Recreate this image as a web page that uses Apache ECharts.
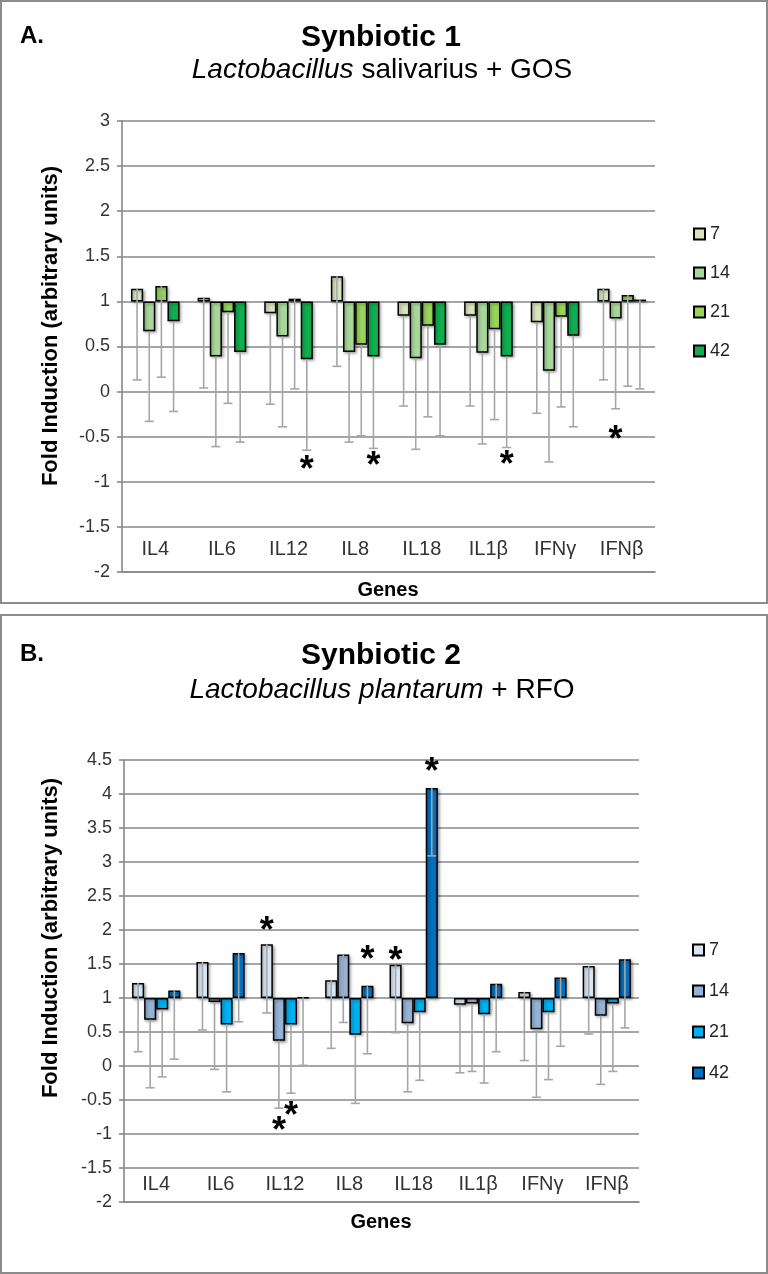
<!DOCTYPE html>
<html>
<head>
<meta charset="utf-8">
<script src="https://cdn.jsdelivr.net/npm/echarts@6/dist/echarts.min.js"></script>
<style>
  body { margin: 0; background: #fff; }
  .panel { position: absolute; left: 0; width: 764px; border: 2px solid #8c8c8c; background: #fff; }
  #chartA { top: 0; height: 600px; }
  #chartB { top: 614px; height: 656px; }
</style>
</head>
<body>
<div id="chartA" class="panel"></div>
<div id="chartB" class="panel"></div>
<script>
// genes on the x axis, sampling days as series
var genes = ['IL4', 'IL6', 'IL12', 'IL8', 'IL18', 'IL1β', 'IFNγ', 'IFNβ'];
var days = ['7', '14', '21', '42'];
var base = 1; // bars start from fold induction 1

// Synbiotic 1 (L. salivarius + GOS)
var a7 = [1.14, 1.04, 0.87, 1.28, 0.84, 0.84, 0.77, 1.14];
var a14 = [0.67, 0.39, 0.61, 0.44, 0.37, 0.43, 0.23, 0.81];
var a21 = [1.17, 0.88, 1.03, 0.52, 0.73, 0.69, 0.83, 1.07];
var a42 = [0.78, 0.44, 0.36, 0.39, 0.52, 0.39, 0.62, 1.02];
// lower end of error bars
var a7Low = [0.13, 0.04, -0.14, 0.28, -0.16, -0.16, -0.24, 0.13];
var a14Low = [-0.33, -0.61, -0.39, -0.56, -0.64, -0.58, -0.78, -0.19];
var a21Low = [0.16, -0.13, 0.03, -0.49, -0.28, -0.31, -0.17, 0.06];
var a42Low = [-0.22, -0.56, -0.65, -0.63, -0.49, -0.62, -0.39, 0.03];
// significance marks: [gene index, day index, y]
var starsA = [[2, 3, -0.79], [3, 3, -0.75], [5, 3, -0.74], [7, 1, -0.46]];

// Synbiotic 2 (L. plantarum + RFO)
var b7 = [1.22, 1.53, 1.79, 1.26, 1.49, 0.90, 1.09, 1.47];
var b14 = [0.68, 0.94, 0.37, 1.64, 0.63, 0.92, 0.54, 0.74];
var b21 = [0.83, 0.61, 0.61, 0.46, 0.79, 0.76, 0.79, 0.92];
var b42 = [1.11, 1.66, 1.01, 1.18, 4.09, 1.21, 1.30, 1.57];
var b7Low = [0.21, 0.53, 0.78, 0.26, 0.49, -0.10, 0.08, 0.47];
var b14Low = [-0.32, -0.05, -0.62, 0.64, -0.38, -0.08, -0.46, -0.27];
var b21Low = [-0.16, -0.38, -0.40, -0.55, -0.21, -0.25, -0.20, -0.08];
var b42Low = [0.10, 0.65, 0.01, 0.18, 3.09, 0.21, 0.29, 0.56];
var starsB = [[2, 0, 2.09], [3, 3, 1.66], [4, 0, 1.65], [4, 3, 4.43], [2, 1, -0.85], [2, 2, -0.63]];

var yMinA = -2, yMaxA = 3;
var yMinB = -2, yMaxB = 4.5;
var yStep = 0.5;

var FONT = '"Liberation Sans", Arial, sans-serif';
var GRID = '#878787';
var ERR = '#a6a6a6';

// error bar (minus side only) drawn at the bar's own slot
function errRenderer(k, gap) {
  return function (params, api) {
    var top = api.coord([api.value(0), api.value(1)]);
    var bot = api.coord([api.value(0), api.value(2)]);
    var barW = api.size([1, 0])[0] * (1 - gap) / 4;
    var x = top[0] + (k - 1.5) * barW;
    return {
      type: 'group',
      children: [
        { type: 'line', shape: { x1: x, y1: top[1], x2: x, y2: bot[1] }, style: { stroke: ERR, lineWidth: 1.6 } },
        { type: 'line', shape: { x1: x - 4.5, y1: bot[1], x2: x + 4.5, y2: bot[1] }, style: { stroke: ERR, lineWidth: 1.6 } }
      ]
    };
  };
}

function starRenderer(gap) {
  return function (params, api) {
    var p = api.coord([api.value(0), api.value(1)]);
    var barW = api.size([1, 0])[0] * (1 - gap) / 4;
    var x = p[0] + (api.value(2) - 1.5) * barW;
    return {
      type: 'text', x: x, y: p[1] + 8,
      style: { text: '*', font: 'bold 36px ' + FONT, fill: '#000', align: 'center', verticalAlign: 'middle' }
    };
  };
}

function buildOption(c) {
  var series = [];
  days.forEach(function (d, k) {
    series.push({
      name: d, type: 'bar', barGap: '0%', barCategoryGap: (c.gap * 100) + '%',
      data: c.vals[k].map(function (v) { return +(v - base).toFixed(3); }),
      itemStyle: {
        color: c.colors[k], borderColor: '#000', borderWidth: 1.5,
        shadowBlur: 3, shadowColor: 'rgba(0,0,0,0.35)', shadowOffsetX: 1.5, shadowOffsetY: 1.5
      },
      z: 2, silent: true
    });
  });
  days.forEach(function (d, k) {
    series.push({
      type: 'custom', z: 3, silent: true,
      renderItem: errRenderer(k, c.gap),
      data: c.vals[k].map(function (v, i) { return [i, v - base, c.lows[k][i] - base]; })
    });
  });
  series.push({
    type: 'custom', z: 4, silent: true,
    renderItem: starRenderer(c.gap),
    data: c.stars.map(function (s) { return [s[0], s[2] - base, s[1]]; })
  });

  return {
    animation: false,
    backgroundColor: '#fff',
    textStyle: { fontFamily: FONT },
    grid: { left: c.grid[0], top: c.grid[1], width: c.grid[2], height: c.grid[3], outerBoundsMode: 'none', containLabel: false },
    legend: {
      data: days, orient: 'vertical', left: c.legend[0], top: c.legend[1], itemGap: c.legend[2],
      itemWidth: 11, itemHeight: 11, icon: 'rect', selectedMode: false,
      textStyle: { fontSize: 18, color: '#262626', fontFamily: FONT }
    },
    xAxis: {
      type: 'category', data: genes,
      axisLine: { show: true, onZero: false, lineStyle: { color: GRID, width: 1.6 } },
      axisTick: { show: false },
      axisLabel: { inside: true, margin: c.labelMargin, fontSize: 20, color: '#333', fontFamily: FONT }
    },
    yAxis: {
      type: 'value', min: c.yMin - base, max: c.yMax - base, interval: yStep,
      axisLine: { show: true, lineStyle: { color: GRID, width: 1.6 } },
      axisTick: { show: true, length: 5, lineStyle: { color: GRID, width: 1.6 } },
      splitLine: { show: true, lineStyle: { color: GRID, width: 1.6 } },
      axisLabel: {
        fontSize: 18, color: '#333', margin: 12, fontFamily: FONT,
        formatter: function (v) { return String(+(v + base).toFixed(1)); }
      }
    },
    graphic: [
      { type: 'text', x: 18, y: c.titleY - 2, style: { text: c.tag, font: 'bold 24px ' + FONT, fill: '#000', verticalAlign: 'middle' } },
      { type: 'text', x: 379, y: c.titleY, style: { text: c.title, font: 'bold 30px ' + FONT, fill: '#000', align: 'center', verticalAlign: 'middle' } },
      {
        type: 'text', x: 380, y: c.subY,
        style: {
          text: c.sub, font: '28px ' + FONT, fill: '#000', align: 'center', verticalAlign: 'middle',
          rich: { i: { fontStyle: 'italic', fontSize: 28, fontFamily: FONT }, n: { fontSize: 28, fontFamily: FONT } }
        }
      },
      { type: 'text', x: 49, y: c.nameY, rotation: Math.PI / 2, style: { text: 'Fold Induction (arbitrary units)', font: 'bold 22px ' + FONT, fill: '#000', align: 'center', verticalAlign: 'middle' } },
      { type: 'text', x: c.genesX, y: c.genesY, style: { text: 'Genes', font: 'bold 20px ' + FONT, fill: '#000', align: 'center', verticalAlign: 'middle' } }
    ],
    series: series
  };
}

var chartA = echarts.init(document.getElementById('chartA'));
chartA.setOption(buildOption({
  vals: [a7, a14, a21, a42], lows: [a7Low, a14Low, a21Low, a42Low], stars: starsA,
  colors: ['#d8e4bc', '#a9d69a', '#97d45a', '#0fae4e'],
  gap: 0.27, yMin: yMinA, yMax: yMaxA,
  grid: [120, 119, 533, 451], legend: [686, 218, 21], labelMargin: 13,
  tag: 'A.', title: 'Synbiotic 1', sub: '{i|Lactobacillus}{n| salivarius + GOS}',
  titleY: 36, subY: 68, nameY: 324, genesX: 386, genesY: 588
}));

var chartB = echarts.init(document.getElementById('chartB'));
chartB.setOption(buildOption({
  vals: [b7, b14, b21, b42], lows: [b7Low, b14Low, b21Low, b42Low], stars: starsB,
  colors: ['#dce6f2', '#95b3d7', '#00b0f0', '#0070c0'],
  gap: 0.25, yMin: yMinB, yMax: yMaxB,
  grid: [122, 144, 515, 442], legend: [685, 320, 23], labelMargin: 8,
  tag: 'B.', title: 'Synbiotic 2', sub: '{i|Lactobacillus plantarum}{n| + RFO}',
  titleY: 40, subY: 74, nameY: 322, genesX: 379, genesY: 606
}));
</script>
</body>
</html>
